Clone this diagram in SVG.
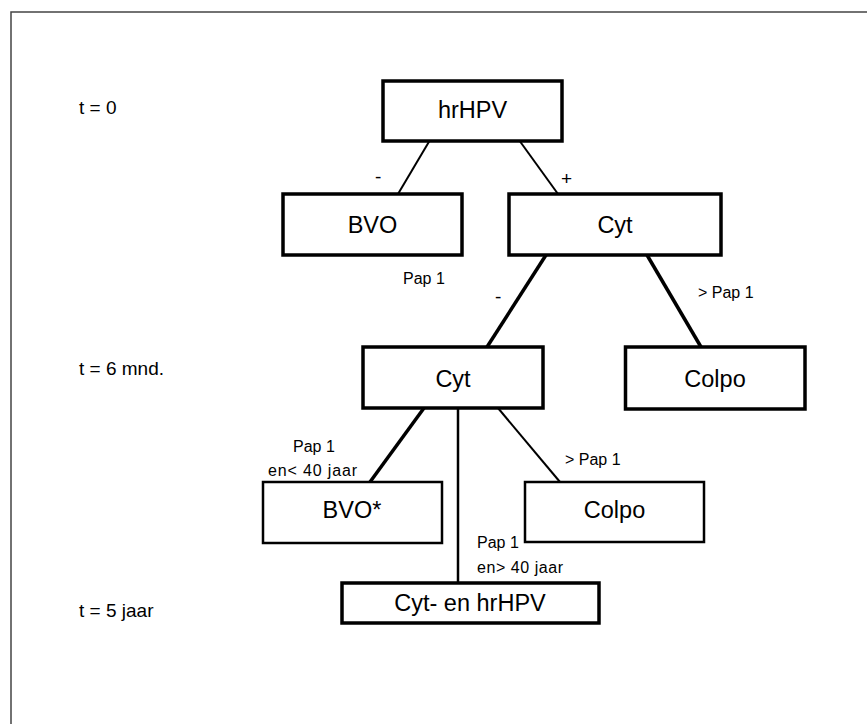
<svg xmlns="http://www.w3.org/2000/svg" width="867" height="724" viewBox="0 0 867 724">
<style>
text{font-family:"Liberation Sans",Arial,sans-serif;fill:#000}
.box{fill:#fff;stroke:#000}
.thick{stroke-width:3.5}
.thin{stroke-width:2.5}
.lbl{font-size:23.5px;text-anchor:middle}
.sm{font-size:16px}
.sign{font-size:19px}
.time{font-size:19px}
.edge{stroke:#000;fill:none}
</style>
<rect width="867" height="724" fill="#fff"/>
<g id="frame">
<path d="M11 724 V12 H867" fill="none" stroke="#444" stroke-width="1.5"/>
</g>
<g id="time-labels">
<text class="time" x="79" y="114">t = 0</text>
<text class="time" x="79" y="375">t = 6 mnd.</text>
<text class="time" x="79" y="617">t = 5 jaar</text>
</g>
<g id="connectors">
<line class="edge" x1="430" y1="140" x2="398" y2="194" stroke-width="2"/>
<line class="edge" x1="519" y1="140" x2="558" y2="194" stroke-width="2"/>
<line class="edge" x1="546" y1="255" x2="487" y2="347" stroke-width="3.5"/>
<line class="edge" x1="647" y1="255" x2="701" y2="347" stroke-width="3.5"/>
<line class="edge" x1="424" y1="408" x2="370" y2="482" stroke-width="3.5"/>
<line class="edge" x1="458" y1="408" x2="458" y2="583" stroke-width="2.5"/>
<line class="edge" x1="498" y1="408" x2="560" y2="482" stroke-width="2"/>
<text class="sign" x="375" y="183">-</text>
<text class="sign" x="561" y="185">+</text>
<text class="sm" x="403" y="284">Pap 1</text>
<text class="sign" x="495" y="303">-</text>
<text class="sm" x="698" y="298">&gt; Pap 1</text>
<text class="sm" x="293" y="452">Pap 1</text>
<text class="sm" x="268" y="476" textLength="89" lengthAdjust="spacing">en&lt; 40 jaar</text>
<text class="sm" x="565" y="465">&gt; Pap 1</text>
<text class="sm" x="477" y="548">Pap 1</text>
<text class="sm" x="477" y="573" textLength="86" lengthAdjust="spacing">en&gt; 40 jaar</text>
</g>
<g id="n-hrhpv">
<rect class="box thick" x="383" y="81" width="179" height="60"/>
<text class="lbl" x="472.5" y="118">hrHPV</text>
</g>
<g id="n-bvo">
<rect class="box thick" x="283" y="194" width="179" height="61"/>
<text class="lbl" x="372.5" y="233">BVO</text>
</g>
<g id="n-cyt1">
<rect class="box thick" x="509" y="194" width="212" height="61"/>
<text class="lbl" x="615" y="233">Cyt</text>
</g>
<g id="n-cyt2">
<rect class="box thick" x="363" y="347" width="180" height="61"/>
<text class="lbl" x="453" y="387">Cyt</text>
</g>
<g id="n-colpo1">
<rect class="box thick" x="625.5" y="347" width="179.5" height="62"/>
<text class="lbl" x="715" y="387">Colpo</text>
</g>
<g id="n-bvostar">
<rect class="box thin" x="263" y="482" width="179" height="61"/>
<text class="lbl" x="352" y="518">BVO*</text>
</g>
<g id="n-colpo2">
<rect class="box thin" x="525" y="482" width="179" height="60"/>
<text class="lbl" x="614.5" y="518">Colpo</text>
</g>
<g id="n-cythpv">
<rect class="box thick" x="342" y="583" width="257" height="40"/>
<text class="lbl" x="470" y="611">Cyt- en hrHPV</text>
</g>
</svg>
